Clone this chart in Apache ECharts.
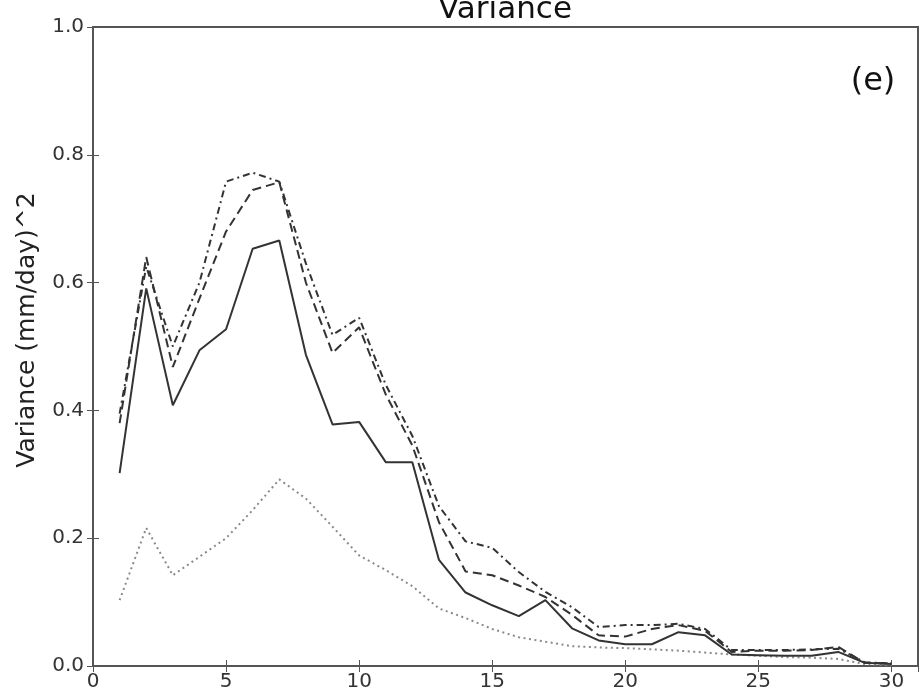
<!DOCTYPE html>
<html>
<head>
<meta charset="utf-8">
<script src="https://cdn.jsdelivr.net/npm/echarts@6/dist/echarts.min.js"></script>
<style>html,body{margin:0;padding:0;background:#fff}#c{width:921px;height:689px}</style>
</head>
<body>
<div id="c"></div>
<script>
const xValues = [1,2,3,4,5,6,7,8,9,10,11,12,13,14,15,16,17,18,19,20,21,22,23,24,25,26,27,28,29,30];
const solidSeries = [0.302,0.591,0.408,0.494,0.527,0.653,0.666,0.487,0.378,0.382,0.319,0.319,0.166,0.115,0.095,0.078,0.103,0.059,0.040,0.034,0.034,0.053,0.048,0.018,0.017,0.016,0.016,0.022,0.005,0.003];
const dashedSeries = [0.380,0.640,0.468,0.575,0.680,0.745,0.757,0.600,0.490,0.530,0.425,0.345,0.225,0.148,0.142,0.126,0.108,0.080,0.048,0.046,0.058,0.064,0.055,0.022,0.024,0.024,0.025,0.030,0.005,0.004];
const dashDotSeries = [0.395,0.625,0.500,0.600,0.758,0.772,0.758,0.630,0.518,0.545,0.440,0.360,0.250,0.195,0.185,0.147,0.116,0.092,0.061,0.064,0.064,0.066,0.058,0.025,0.025,0.025,0.026,0.027,0.006,0.004];
const dottedSeries = [0.103,0.216,0.142,0.171,0.200,0.244,0.292,0.262,0.218,0.173,0.150,0.125,0.090,0.075,0.058,0.045,0.038,0.031,0.029,0.028,0.026,0.024,0.021,0.018,0.016,0.014,0.013,0.011,0.003,0.001];
const yTickLabels = ['0.0','0.2','0.4','0.6','0.8','1.0'];
const xTickLabels = ['0','5','10','15','20','25','30'];

const pairs = arr => arr.map((v, i) => [xValues[i], v]);
const axisColor = '#555';
const font = 'DejaVu Sans';

const chart = echarts.init(document.getElementById('c'), null, {renderer: 'canvas'});
chart.setOption({
  backgroundColor: '#fff',
  animation: false,
  title: {
    text: 'Variance',
    left: 500, top: -11, textAlign: 'center',
    textStyle: {fontFamily: font, fontSize: 31, fontWeight: 'normal', color: '#111'}
  },
  grid: {left: 93, right: 3, top: 27, bottom: 23, outerBoundsMode: 'none', containLabel: false,
    show: true, borderColor: axisColor, borderWidth: 2, backgroundColor: 'transparent'},
  xAxis: [{
    type: 'value', min: 0, max: 31, interval: 5, position: 'bottom',
    axisLine: {show: true, onZero: false, lineStyle: {color: axisColor, width: 2}},
    axisTick: {show: true, inside: true, length: 6, lineStyle: {color: axisColor, width: 1}},
    axisLabel: {show: true, margin: 6, fontFamily: font, fontSize: 20, color: '#333', showMaxLabel: false,
      formatter: v => v % 5 === 0 && xTickLabels[v / 5] !== undefined ? xTickLabels[v / 5] : ''},
    splitLine: {show: false}
  }, {
    type: 'value', min: 0, max: 31, interval: 5, position: 'top',
    axisLine: {show: true, lineStyle: {color: axisColor, width: 2}},
    axisTick: {show: true, inside: true, length: 6, lineStyle: {color: axisColor, width: 1}},
    axisLabel: {show: false}, splitLine: {show: false}
  }],
  yAxis: [{
    type: 'value', min: 0, max: 1, interval: 0.2, position: 'left',
    axisLine: {show: true, onZero: false, lineStyle: {color: axisColor, width: 2}},
    axisTick: {show: true, inside: true, length: 6, lineStyle: {color: axisColor, width: 1}},
    axisLabel: {show: true, margin: 9, fontFamily: font, fontSize: 20, color: '#333',
      formatter: v => yTickLabels[Math.round(v / 0.2)]},
    splitLine: {show: false}
  }, {
    type: 'value', min: 0, max: 1, interval: 0.2, position: 'right',
    axisLine: {show: true, lineStyle: {color: axisColor, width: 2}},
    axisTick: {show: true, inside: true, length: 6, lineStyle: {color: axisColor, width: 1}},
    axisLabel: {show: false}, splitLine: {show: false}
  }],
  graphic: [{
    type: 'text', x: 27, y: 330, rotation: Math.PI / 2,
    style: {text: 'Variance (mm/day)^2', fontFamily: font, fontSize: 25, fill: '#222', align: 'center', verticalAlign: 'middle'}
  }, {
    type: 'text', x: 873, y: 82,
    style: {text: '(e)', fontFamily: font, fontSize: 32, fill: '#111', align: 'center', verticalAlign: 'middle'}
  }],
  series: [
    {name: 'dotted', type: 'line', data: pairs(dottedSeries), showSymbol: false, symbol: 'none',
      lineStyle: {color: '#8a8a8a', width: 2, type: [2, 3.5]}},
    {name: 'dashdot', type: 'line', data: pairs(dashDotSeries), showSymbol: false, symbol: 'none',
      lineStyle: {color: '#333', width: 2, type: [7, 4, 2, 4]}},
    {name: 'dashed', type: 'line', data: pairs(dashedSeries), showSymbol: false, symbol: 'none',
      lineStyle: {color: '#333', width: 2, type: [9, 5]}},
    {name: 'solid', type: 'line', data: pairs(solidSeries), showSymbol: false, symbol: 'none',
      lineStyle: {color: '#333', width: 2, type: 'solid'}}
  ]
});
</script>
</body>
</html>
